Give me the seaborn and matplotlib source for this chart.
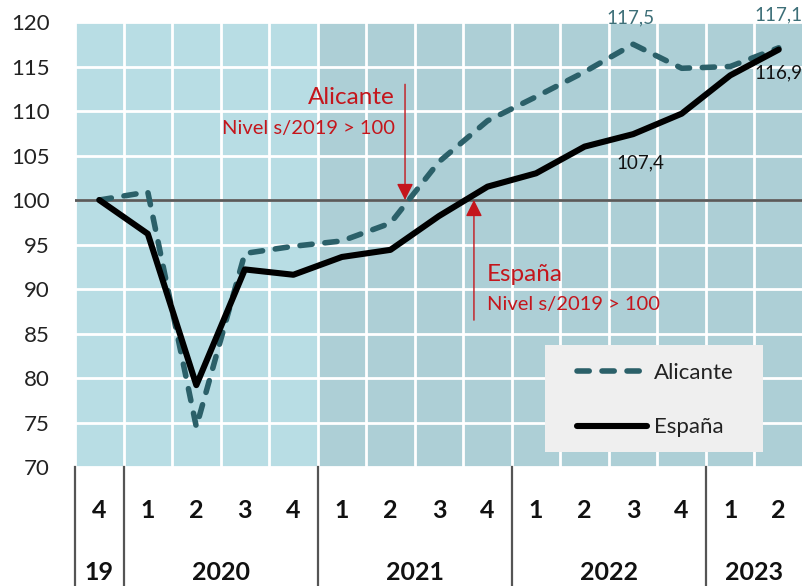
import pandas as pd
import seaborn as sns
import matplotlib.pyplot as plt
from matplotlib import font_manager
from matplotlib.patches import Rectangle
import matplotlib.transforms as mtransforms

# quarters 4Q2019 .. 2Q2023 (index 4Q2019 = 100)
quarters = ['4', '1', '2', '3', '4', '1', '2', '3', '4', '1', '2', '3', '4', '1', '2']
years = ['19', '2020', '2021', '2022', '2023']
year_len = [1, 4, 4, 4, 2]
alicante = [100.0, 100.9, 74.5, 94.0, 94.8, 95.4, 97.4, 104.3, 108.9, 111.6, 114.4, 117.5, 114.8, 115.0, 117.1]
espana = [100.0, 96.2, 79.2, 92.2, 91.6, 93.6, 94.4, 98.2, 101.5, 103.0, 106.0, 107.4, 109.7, 114.0, 116.9]

df = pd.DataFrame({
	'pos': list(range(len(quarters))) * 2,
	'valor': alicante + espana,
	'serie': ['Alicante'] * len(quarters) + ['España'] * len(quarters),
})

names = {f.name for f in font_manager.fontManager.ttflist}
narrow = 'Liberation Sans Narrow' if 'Liberation Sans Narrow' in names else 'Lato'
plt.rcParams['font.family'] = ['Lato', 'DejaVu Sans']

red = '#c4161c'
teal = '#2b6069'
light_bg = '#b8dde4'
dark_bg = '#adcfd6'

fig = plt.figure(figsize=(8.03, 5.86), dpi=100)
ax = fig.add_axes([75/803, 119/586, 728/803, 445/586])

sns.lineplot(data=df, x='pos', y='valor', hue='serie', style='serie',
			 palette={'Alicante': teal, 'España': 'black'},
			 dashes={'Alicante': (2.2, 2.3), 'España': ''},
			 legend=False, ax=ax, zorder=3)
lines = ax.get_lines()[:2]
lines[0].set_linewidth(4.0)
lines[0].set_dash_capstyle('round')
lines[1].set_linewidth(4.4)
lines[1].set_solid_capstyle('round')
lines[1].set_zorder(4)

n = len(quarters)
ax.set_xlim(-0.5, n - 0.5)
ax.set_ylim(70, 120)
ax.axvspan(-0.5, 4.5, color=light_bg, zorder=0, lw=0)
ax.axvspan(4.5, n - 0.5, color=dark_bg, zorder=0, lw=0)
ax.set_xticks([i - 0.5 for i in range(n + 1)])
ax.set_yticks(range(70, 121, 5))
ax.set_axisbelow(True)
ax.grid(True, color='white', lw=2)
ax.axhline(100, color='#5a5a5a', lw=2, zorder=2)
ax.tick_params(axis='x', length=0, labelbottom=False)
ax.tick_params(axis='y', length=0, labelsize=16, labelcolor='#222222', pad=18)
ax.set_xlabel('')
ax.set_ylabel('')
for s in ax.spines.values():
	s.set_visible(False)

# bottom two-level category axis
trans = mtransforms.blended_transform_factory(ax.transData, ax.transAxes)
for i, q in enumerate(quarters):
	ax.text(i, -0.097, q, transform=trans, ha='center', va='center',
			fontsize=18, fontweight='bold', family=narrow, color='#111111')
start = 0
bounds = [-0.5]
for y, k in zip(years, year_len):
	ax.text(start + (k - 1) / 2, -0.236, y, transform=trans, ha='center', va='center',
			fontsize=18, fontweight='bold', family=narrow, color='#111111')
	start += k
	bounds.append(start - 0.5)
for b in bounds[:-1]:
	ax.plot([b, b], [0, -0.27], transform=trans, color='#555555', lw=1.6, clip_on=False)

# annotations
arrow = dict(arrowstyle='-|>,head_length=0.5,head_width=0.25', color=red, lw=1,
			 mutation_scale=20, shrinkA=0, shrinkB=0)
ax.annotate('', xy=(6.3, 100), xytext=(6.3, 113.0), arrowprops=arrow, zorder=5)
ax.annotate('', xy=(7.72, 100), xytext=(7.72, 86.5), arrowprops=arrow, zorder=5)
ax.text(6.09, 111.5, 'Alicante', ha='right', va='center', fontsize=17.5, color=red)
ax.text(6.09, 108.0, 'Nivel s/2019 > 100', ha='right', va='center', fontsize=14.5, color=red)
ax.text(7.99, 91.6, 'España', ha='left', va='center', fontsize=17.5, color=red)
ax.text(7.99, 88.3, 'Nivel s/2019 > 100', ha='left', va='center', fontsize=14.5, color=red)

ax.text(10.94, 120.5, '117,5', ha='center', va='center', fontsize=13.5, color='#3d6f78', clip_on=False)
ax.text(14.49, 120.8, '117,1', ha='right', va='center', fontsize=13.5, color='#3d6f78', clip_on=False)
ax.text(14.49, 114.3, '116,9', ha='right', va='center', fontsize=13.5, color='#111111')
ax.text(11.14, 104.2, '107,4', ha='center', va='center', fontsize=13.5, color='#111111')

# legend: grey box plus frameless legend
ax.add_patch(Rectangle(((545 - 75) / 728, (467 - 452) / 445), 218 / 728, 107 / 445,
					   transform=ax.transAxes, facecolor='#efefef', edgecolor='none', zorder=6))
leg = ax.legend(lines, ['Alicante', 'España'], loc='upper left',
				bbox_to_anchor=((577 - 75) / 728, (467 - 363) / 445),
				fontsize=16, handlelength=3.15, labelspacing=1.55, borderpad=0,
				handletextpad=0.3, borderaxespad=0, frameon=False)
leg.set_zorder(7)
for t in leg.get_texts():
	t.set_color('#222222')

plt.savefig('out.png', dpi=100)
